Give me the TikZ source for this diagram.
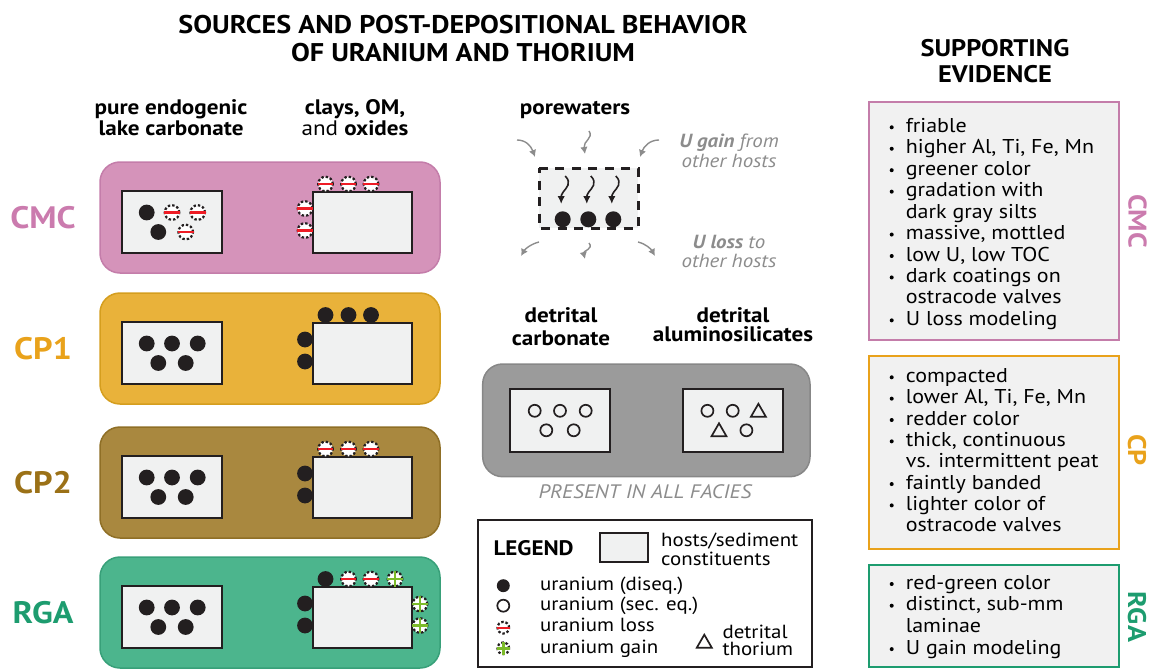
\documentclass[tikz,border=0pt]{standalone}
\usepackage{fontspec}
\setmainfont{PT Sans}[FakeStretch=1.1]
\usetikzlibrary{arrows.meta}
\definecolor{cmcF}{HTML}{D593BA}
\definecolor{cmcB}{HTML}{C47DAA}
\definecolor{cmcL}{HTML}{CB7BAE}
\definecolor{cpaF}{HTML}{E9B23A}
\definecolor{cpaB}{HTML}{D59E1E}
\definecolor{cpaL}{HTML}{E9A21B}
\definecolor{cpbF}{HTML}{A9883F}
\definecolor{cpbB}{HTML}{8F6F26}
\definecolor{cpbL}{HTML}{9B7117}
\definecolor{rgaF}{HTML}{4CB58D}
\definecolor{rgaB}{HTML}{38A079}
\definecolor{rgaL}{HTML}{1D9C6F}
\definecolor{hostF}{HTML}{F0F1F1}
\definecolor{dotK}{HTML}{231F20}
\definecolor{lossR}{HTML}{EE1C25}
\definecolor{gainG}{HTML}{7CBB2A}
\definecolor{grayP}{HTML}{9B9B9B}
\definecolor{grayPB}{HTML}{878787}
\definecolor{grayT}{HTML}{8C8C8C}
\definecolor{evF}{HTML}{F1F1F1}
\newcommand\fs[1]{\fontsize{#1}{#1}\selectfont}
\newcommand\hostdots[7]{%
  \begin{scope}[shift={(#1,#2)}]
    \pic at (24.7,21.5) {#3}; \pic at (50,21.5) {#4}; \pic at (75.7,21.5) {#5};
    \pic at (36.3,41) {#6}; \pic at (63.7,41) {#7};
  \end{scope}}
\tikzset{
  hostbox/.style={draw=dotK, fill=hostF, line width=2pt},
  panel/.style={rounded corners=20pt, line width=1.5pt},
  evbox/.style={fill=evF, line width=2pt},
  ufill/.pic={\fill[dotK] (0,0) circle (7.9pt);},
  uopen/.pic={\draw[dotK, line width=1.7pt] (0,0) circle (6pt);},
  uloss/.pic={\draw[dotK, fill=white, line width=2.2pt, dash pattern=on 2.4pt off 2pt] (0,0) circle (7.3pt);
              \draw[lossR, line width=2.4pt] (-7.8,0) -- (7.8,0);},
  ugain/.pic={\draw[dotK, fill=white, line width=2.2pt, dash pattern=on 2.4pt off 2pt] (0,0) circle (7.3pt);
              \draw[gainG, line width=2.4pt] (-7.8,0) -- (7.8,0) (0,-7.8) -- (0,7.8);},
  thtri/.pic={\draw[dotK, line width=1.7pt, line join=miter] (-7.5,6) -- (7.5,6) -- (0,-7) -- cycle;},
  squig/.pic={\draw[dotK, line width=1.6pt, -{Latex[length=8pt,width=7.5pt]}] (0,0) .. controls (7,7) and (1,12) .. (-2,16) .. controls (-5,20) and (-4,23) .. (-4,28);},
  garrow/.style={grayT, line width=1.4pt, -{Latex[length=7pt,width=7.5pt]}},
  head/.style={font=\fs{21}\bfseries, anchor=base},
  evtext/.style={font=\fs{20}, anchor=base west, inner sep=0pt},
  legtext/.style={font=\fs{19}, anchor=base west, inner sep=0pt},
  gtext/.style={font=\fs{19}\itshape, text=grayT, anchor=base},
}
\begin{document}
\begin{tikzpicture}[x=1pt,y=-1pt]
\useasboundingbox (0,0) rectangle (1151,669);
% titles
\node[font=\fs{25.6}\bfseries, anchor=base] (t1) at (463,34) {SOURCES AND POST-DEPOSITIONAL BEHAVIOR};
\node[font=\fs{25.6}\bfseries, anchor=base] (t2) at (463,62) {OF URANIUM AND THORIUM};
\node[head] (h1a) at (171,114) {pure endogenic};
\node[head] (h1b) at (171,135) {lake carbonate};
\node[head] (h2a) at (355,114) {clays, OM,};
\node[head] (h2b) at (355,135) {\mdseries and \bfseries oxides};
\node[head] (h3) at (575,114) {porewaters};
\node[font=\fs{24}\bfseries, anchor=base] (s1) at (995,57) {SUPPORTING};
\node[font=\fs{24}\bfseries, anchor=base] (s2) at (995,82) {EVIDENCE};
% facies panels
\foreach \T/\F/\B/\L/\lab in {162/cmcF/cmcB/cmcL/CMC, 293/cpaF/cpaB/cpaL/CP1, 427/cpbF/cpbB/cpbL/CP2, 557/rgaF/rgaB/rgaL/RGA}{
  \draw[panel, fill=\F, draw=\B] (100,\T) rectangle (440,\T+111);
  \node[font=\fs{31}\bfseries, text=\L] (lab\lab) at (43,\T+56) {\lab};
  \draw[hostbox] (122,\T+29) rectangle (222,\T+91);
  \draw[hostbox] (313,\T+30) rectangle (412,\T+91);
}
% CMC
\hostdots{122}{191}{ufill}{uloss}{uloss}{ufill}{uloss}
\begin{scope}[shift={(313,192)}]
  \pic at (12.5,-8) {uloss}; \pic at (35.5,-8) {uloss}; \pic at (58,-8) {uloss};
  \pic at (-8,16.5) {uloss}; \pic at (-8,38.5) {uloss};
\end{scope}
% CP1
\hostdots{122}{322}{ufill}{ufill}{ufill}{ufill}{ufill}
\begin{scope}[shift={(313,323)}]
  \pic at (12.5,-8) {ufill}; \pic at (35.5,-8) {ufill}; \pic at (58,-8) {ufill};
  \pic at (-8,16.5) {ufill}; \pic at (-8,38.5) {ufill};
\end{scope}
% CP2
\hostdots{122}{456}{ufill}{ufill}{ufill}{ufill}{ufill}
\begin{scope}[shift={(313,457)}]
  \pic at (12.5,-8) {uloss}; \pic at (35.5,-8) {uloss}; \pic at (58,-8) {uloss};
  \pic at (-8,16.5) {ufill}; \pic at (-8,38.5) {ufill};
\end{scope}
% RGA
\hostdots{122}{586}{ufill}{ufill}{ufill}{ufill}{ufill}
\begin{scope}[shift={(313,587)}]
  \pic at (12.5,-8) {ufill}; \pic at (35.5,-8) {uloss}; \pic at (58,-8) {uloss}; \pic at (82,-8) {ugain};
  \pic at (-8,16.5) {ufill}; \pic at (-8,38.5) {ufill};
  \pic at (107,17) {ugain}; \pic at (107,38.5) {ugain};
\end{scope}
% porewaters
\fill[hostF] (539,168) rectangle (638,228);
\draw[draw=dotK, line width=3pt, dash pattern=on 9pt off 7.5pt, dash phase=4pt] (539,168) rectangle (638,228);
\foreach \x in {562.7,588.3,613.3}{
  \fill[dotK] (\x,219.3) circle (8pt);
  \pic at (\x+2.5,176) {squig};
}
\draw[garrow] (517,140) .. controls (526,140) and (531,146) .. (535,157);
\draw[garrow] (659,140) .. controls (650,140) and (644,146) .. (640,157);
\draw[garrow] (589,131) .. controls (594,138) and (583,141) .. (585,154);
\draw[garrow] (539,242) .. controls (531,244) and (525,249) .. (521,256);
\draw[garrow] (638,242) .. controls (646,244) and (651,249) .. (655,256);
\draw[garrow] (589,243) .. controls (594,249) and (583,251) .. (585,259);
\node[gtext] (ug1) at (729,147) {\bfseries U gain \mdseries from};
\node[gtext] (ug2) at (729,167) {other hosts};
\node[gtext] (ul1) at (729,248) {\bfseries U loss \mdseries to};
\node[gtext] (ul2) at (729,267) {other hosts};
% detrital
\node[head] (d1a) at (561,322) {detrital};
\node[head] (d1b) at (561,345) {carbonate};
\node[head] (d2a) at (733,322) {detrital};
\node[head] (d2b) at (733,341) {aluminosilicates};
\draw[panel, fill=grayP, draw=grayPB] (482.7,364) rectangle (810,476.7);
\draw[hostbox] (510,389.3) rectangle (610,451.7);
\draw[hostbox] (682.7,389.3) rectangle (782.7,451.7);
\hostdots{510}{389.3}{uopen}{uopen}{uopen}{uopen}{uopen}
\hostdots{682.7}{389.3}{uopen}{uopen}{thtri}{thtri}{uopen}
\node[font=\fs{19.5}\itshape, text=grayT, anchor=base] (paf) at (645,498) {PRESENT IN ALL FACIES};
% legend
\draw[dotK, fill=white, line width=2pt] (477.7,520) rectangle (811.7,666.7);
\node[font=\fs{21}\bfseries, anchor=base west, inner sep=0pt] (leg) at (493.3,555) {LEGEND};
\draw[hostbox] (600,533.3) rectangle (647.7,561.7);
\node[legtext] (lh1) at (661,546.7) {hosts/sediment};
\node[legtext] (lh2) at (661,565) {constituents};
\pic[scale=0.82] at (503.3,585.7) {ufill};
\pic at (503.3,605.7) {uopen};
\pic[scale=0.8] at (503.3,627.7) {uloss};
\pic[scale=0.8] at (503.3,648.3) {ugain};
\node[legtext] (l1) at (540,590) {uranium (diseq.)};
\node[legtext] (l2) at (540,610) {uranium (sec. eq.)};
\node[legtext] (l3) at (540,631.7) {uranium loss};
\node[legtext] (l4) at (540,653.3) {uranium gain};
\pic at (704.3,641.7) {thtri};
\node[legtext] (lt1) at (722.3,638.3) {detrital};
\node[legtext] (lt2) at (722.3,655) {thorium};
% evidence boxes
\draw[evbox, draw=cmcB] (869,101.7) rectangle (1119.3,340);
\draw[evbox, draw=cpaL] (869,356) rectangle (1119.3,549);
\draw[evbox, draw=rgaL] (869,565) rectangle (1119.3,666.7);
\foreach \t [count=\i] in {friable, {higher Al, Ti, Fe, Mn}, greener color, gradation with, dark gray silts, {massive, mottled}, {low U, low TOC}, dark coatings on, ostracode valves, U loss modeling}{
  \node[evtext] (ecmc\i) at (905.7,132.3+21.45*\i-21.45) {\t};
}
\foreach \i in {1,2,3,4,6,7,8,10}{\fill (891.7,127.3+21.45*\i-21.45) circle (2pt);}
\foreach \t [count=\i] in {compacted, {lower Al, Ti, Fe, Mn}, redder color, {thick, continuous}, vs. intermittent peat, faintly banded, lighter color of, ostracode valves}{
  \node[evtext] (ecp\i) at (905.7,382.3+21.35*\i-21.35) {\t};
}
\foreach \i in {1,2,3,4,6,7}{\fill (891.7,377.3+21.35*\i-21.35) circle (2pt);}
\foreach \t [count=\i] in {red-green color, {distinct, sub-mm}, laminae, U gain modeling}{
  \node[evtext] (erga\i) at (905.7,589+21.7*\i-21.7) {\t};
}
\foreach \i in {1,2,4}{\fill (891.7,584+21.7*\i-21.7) circle (2pt);}
\node[font=\fs{25.5}\bfseries, text=cmcL, rotate=-90] (rcmc) at (1137.5,221) {CMC};
\node[font=\fs{25.5}\bfseries, text=cpaL, rotate=-90] (rcp) at (1137,450) {CP};
\node[font=\fs{25.5}\bfseries, text=rgaL, rotate=-90] (rrga) at (1137,617) {RGA};
\end{tikzpicture}
\end{document}
